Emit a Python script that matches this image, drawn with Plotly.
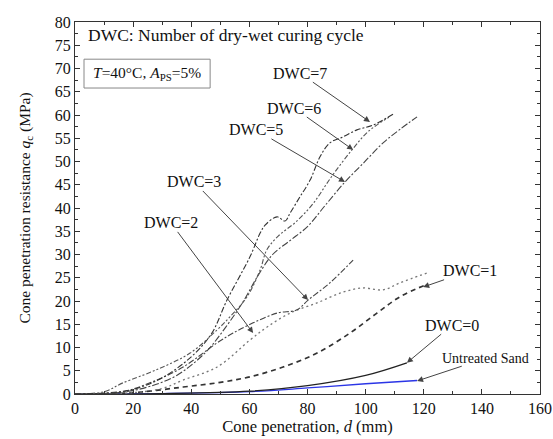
import plotly.graph_objects as go

# Cone penetration (mm) and cone resistance (MPa) for each dry-wet curing cycle count
d_sand = [0, 30, 60, 80, 100, 117.7]
q_sand = [0, 0.1, 0.5, 1.3, 2.2, 2.9]

d_dwc0 = [0, 30, 60, 80, 100, 114.2]
q_dwc0 = [0, 0.1, 0.6, 1.8, 4.0, 6.7]

d_dwc1 = [0, 20, 37.2, 50, 60.2, 71.6, 83.3, 94.6, 103.9, 111.8, 120.4]
q_dwc1 = [0, 0.3, 1.5, 2.5, 3.7, 5.8, 8.8, 13.1, 17.4, 20.9, 23.4]

d_dwc2 = [0, 20, 30, 37.2, 48.9, 60.2, 66.1, 74, 83.3, 92.2, 99.1, 106, 111.8, 121]
q_dwc2 = [0, 0.3, 1.2, 3.0, 5.8, 11.6, 14.4, 17.4, 19.6, 21.9, 22.8, 22.4, 23.9, 26.0]

d_dwc3 = [0, 15, 25.8, 37.2, 48.9, 54.4, 61.3, 69.5, 76.4, 80.2, 87.7, 95.7]
q_dwc3 = [0, 0.3, 2.4, 5.8, 11.0, 13.1, 15.3, 17.4, 18.1, 20.2, 23.9, 28.8]

d_dwc5 = [0, 15, 25, 35, 45, 52, 58, 63, 68, 74, 80, 86, 92.9, 99, 106, 112, 117.7]
q_dwc5 = [0, 0.3, 1.5, 4.0, 9.0, 14.5, 20.0, 25.5, 30.0, 33.0, 36.0, 40.5, 45.6, 49.5, 54.0, 57.0, 59.6]

d_dwc6 = [0, 10, 16.5, 28, 39.6, 48.9, 53.3, 59.2, 63.7, 66, 70, 76, 82, 88, 95.3, 101, 108]
q_dwc6 = [0, 0.5, 2.4, 5.2, 8.8, 13.8, 16.6, 20.9, 26.7, 31.0, 34.0, 37.0, 41.0, 46.5, 52.5, 56.5, 59.5]

d_dwc7 = [0, 10, 20, 30, 40, 47, 52.3, 60.2, 63.7, 65.4, 69.5, 72.3, 74, 77.4, 80.9, 84.3, 87.7, 92.2, 97, 102.5, 110]
q_dwc7 = [0, 0.2, 1.0, 3.5, 8.0, 13.0, 20.2, 29.5, 34.6, 36.3, 38.1, 37.2, 38.9, 42.4, 46.0, 51.0, 54.0, 55.3, 56.8, 57.8, 60.4]

x_ticks = [0, 20, 40, 60, 80, 100, 120, 140, 160]
y_ticks = [0, 5, 10, 15, 20, 25, 30, 35, 40, 45, 50, 55, 60, 65, 70, 75, 80]

FONT = "'Liberation Serif', 'Times New Roman', 'DejaVu Serif', serif"
INK = "#111111"

fig = go.Figure()

series = [
    (d_sand, q_sand, dict(color="#2b35e6", width=1.3, dash="solid")),
    (d_dwc0, q_dwc0, dict(color="#222222", width=1.2, dash="solid")),
    (d_dwc1, q_dwc1, dict(color="#333333", width=1.7, dash="5px,4px")),
    (d_dwc2, q_dwc2, dict(color="#777777", width=1.3, dash="2px,3px")),
    (d_dwc3, q_dwc3, dict(color="#444444", width=1.1, dash="6px,2px,2px,2px")),
    (d_dwc5, q_dwc5, dict(color="#444444", width=1.1, dash="7px,2px,2px,2px")),
    (d_dwc6, q_dwc6, dict(color="#555555", width=1.1, dash="5px,2px,2px,2px,2px,2px")),
    (d_dwc7, q_dwc7, dict(color="#333333", width=1.1, dash="6px,2px,2px,2px")),
]
for xs, ys, ln in series:
    fig.add_trace(go.Scatter(x=xs, y=ys, mode="lines", line=ln,
                             line_shape="spline", showlegend=False, hoverinfo="skip"))

# Curve labels: text centre and arrow tip (data units); the arrow leaves the text box edge
labels = [
    ("DWC=7", 77.4, 69.0, 101.5, 58.5, 16),
    ("DWC=6", 75.4, 61.5, 95.7, 52.5, 16),
    ("DWC=5", 62.3, 56.8, 92.9, 45.6, 16),
    ("DWC=3", 41.0, 45.6, 80.2, 20.2, 16),
    ("DWC=2", 33.0, 36.8, 61.3, 13.1, 16),
    ("DWC=1", 135.9, 26.5, 119.8, 23.0, 16),
    ("DWC=0", 129.7, 14.8, 114.2, 6.7, 16),
    ("Untreated Sand", 141.4, 7.7, 117.7, 2.8, 14),
]
for text, tx, ty, hx, hy, fs in labels:
    fig.add_annotation(x=hx, y=hy, ax=tx, ay=ty, xref="x", yref="y", axref="x", ayref="y",
                       text=text, showarrow=True, arrowhead=2, arrowsize=1.2,
                       arrowwidth=1, arrowcolor="#444444", borderpad=0,
                       font=dict(family=FONT, size=fs, color=INK))

fig.add_annotation(x=3.8, y=77.2, xref="x", yref="y", xanchor="left",
                   text="DWC: Number of dry-wet curing cycle", showarrow=False,
                   font=dict(family=FONT, size=17.5, color=INK))

fig.add_shape(type="rect", x0=3.1, x1=46.5, y0=65.8, y1=72.0, xref="x", yref="y",
              line=dict(color="#888888", width=1), fillcolor="white")
fig.add_annotation(x=24.8, y=68.9, xref="x", yref="y",
                   text="<i>T</i>=40°C, <i>A</i><sub>PS</sub>=5%", showarrow=False,
                   font=dict(family=FONT, size=15.5, color=INK))

axis_common = dict(
    showgrid=False, zeroline=False, showline=True, linecolor="#333333", linewidth=1.2,
    mirror="ticks", ticks="inside", ticklen=5, tickwidth=1, tickcolor="#333333",
    tickfont=dict(family=FONT, size=16, color=INK), automargin=False,
)
fig.update_xaxes(range=[0, 160], tickvals=x_ticks, ticktext=[str(v) for v in x_ticks],
                 minor=dict(ticks="inside", ticklen=3, dtick=10, tickcolor="#333333"),
                 title=dict(text="Cone penetration, <i>d</i> (mm)",
                            font=dict(family=FONT, size=16.5, color=INK), standoff=4),
                 **axis_common)
fig.update_yaxes(range=[0, 80], tickvals=y_ticks, ticktext=[str(v) for v in y_ticks],
                 minor=dict(ticks="inside", ticklen=3, dtick=2.5, tickcolor="#333333"),
                 title=dict(text="Cone penetration resistance <i>q</i><sub>c</sub> (MPa)",
                            font=dict(family=FONT, size=15.5, color=INK), standoff=20),
                 **axis_common)

fig.update_layout(width=553, height=439, margin=dict(l=75, r=13, t=22, b=45),
                  paper_bgcolor="white", plot_bgcolor="white")

fig.write_html("out.html")
